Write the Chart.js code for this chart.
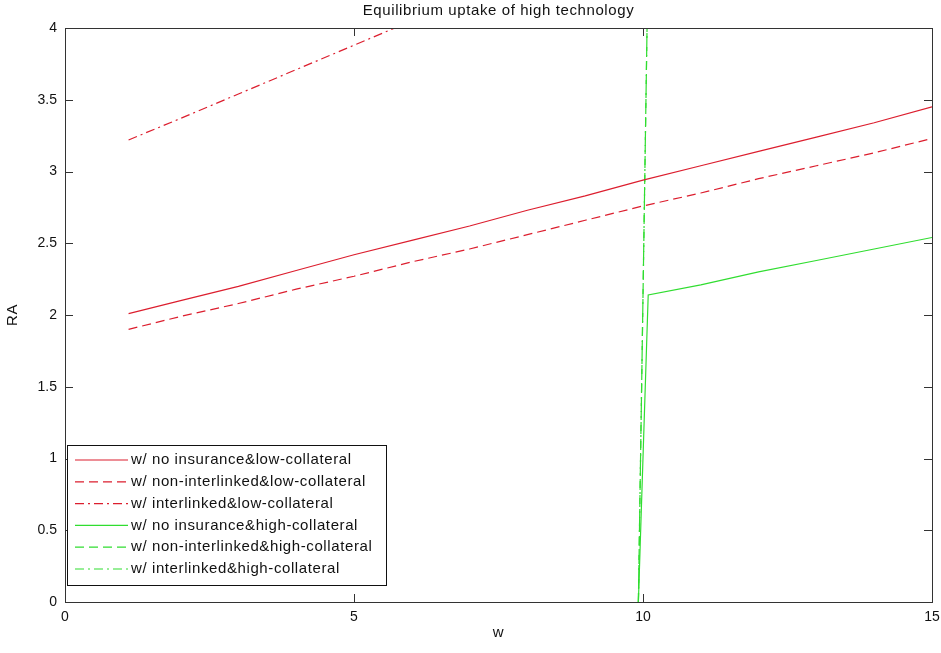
<!DOCTYPE html>
<html>
<head>
<meta charset="utf-8">
<script src="https://cdn.jsdelivr.net/npm/chart.js@4/dist/chart.umd.min.js"></script>
<style>
  body { margin: 0; background: #fff; }
</style>
</head>
<body>
<canvas id="chart" width="941" height="653"></canvas>
<script>
// values
let wLow = [1.1, 2, 3, 4, 5, 6, 7, 8, 9, 10, 11, 12, 13, 14, 15];
let raNoInsLow = [2.01, 2.10, 2.20, 2.31, 2.42, 2.52, 2.62, 2.73, 2.83, 2.94, 3.04, 3.14, 3.24, 3.34, 3.45];
let raNonInterLow = [1.90, 1.99, 2.08, 2.18, 2.27, 2.37, 2.46, 2.56, 2.66, 2.76, 2.85, 2.95, 3.04, 3.13, 3.23];
let wInterLow = [1.1, 2, 3, 4, 5, 6];
let raInterLow = [3.22, 3.37, 3.54, 3.71, 3.88, 4.05];
let wNoInsHigh = [9.92, 10.09, 11, 12, 13, 14, 15];
let raNoInsHigh = [0, 2.14, 2.21, 2.30, 2.38, 2.46, 2.54];
let wNonInterHigh = [9.92, 10.07];
let raNonInterHigh = [0, 4.0];
let wInterHigh = [9.92, 10.07];
let raInterHigh = [0, 4.0];

let labels = [
    "w/ no insurance&low-collateral",
    "w/ non-interlinked&low-collateral",
    "w/ interlinked&low-collateral",
    "w/ no insurance&high-collateral",
    "w/ non-interlinked&high-collateral",
    "w/ interlinked&high-collateral"
];
let xTicks = [0, 5, 10, 15];
let yTicks = [0, 0.5, 1, 1.5, 2, 2.5, 3, 3.5, 4];

let red = "#dc1e2e";
let green = "#30dd30";
let dash = [9, 5];
let dashDot = [9, 4, 2, 4];

function pts(xs, ys) {
    let out = [];
    for (let i = 0; i < xs.length; i++) out.push({ x: xs[i], y: ys[i] });
    return out;
}

function series(i, xs, ys, color, pattern) {
    return {
        label: labels[i],
        data: pts(xs, ys),
        borderColor: color,
        borderWidth: 1.2,
        borderDash: pattern,
        pointRadius: 0,
        fill: false,
        tension: 0
    };
}

let font = "Liberation Sans, Arial, sans-serif";

let matlabFrame = {
    id: "matlabFrame",
    afterDraw(chart) {
        let ctx = chart.ctx;
        let a = chart.chartArea;
        let xs = chart.scales.x, ys = chart.scales.y;
        ctx.save();
        ctx.strokeStyle = "#333";
        ctx.lineWidth = 1;
        ctx.beginPath();
        yTicks.forEach(function (v) {
            let y = Math.round(ys.getPixelForValue(v)) + 0.5;
            ctx.moveTo(a.left, y); ctx.lineTo(a.left + 8, y);
            ctx.moveTo(a.right, y); ctx.lineTo(a.right - 8, y);
        });
        xTicks.forEach(function (v) {
            let x = Math.round(xs.getPixelForValue(v)) + 0.5;
            ctx.moveTo(x, a.bottom); ctx.lineTo(x, a.bottom - 8);
            ctx.moveTo(x, a.top); ctx.lineTo(x, a.top + 8);
        });
        ctx.stroke();
        ctx.strokeRect(Math.round(a.left) + 0.5, Math.round(a.top) + 0.5,
            Math.round(a.right - a.left), Math.round(a.bottom - a.top));

        // legend
        let lx = 67, ly = 445, lw = 319, lh = 140;
        ctx.fillStyle = "#fff";
        ctx.fillRect(lx, ly, lw, lh);
        ctx.strokeStyle = "#111";
        ctx.strokeRect(lx + 0.5, ly + 0.5, lw, lh);
        ctx.font = "15px " + font;
        ctx.letterSpacing = "0.6px";
        ctx.textBaseline = "middle";
        ctx.textAlign = "left";
        chart.data.datasets.forEach(function (ds, i) {
            let y = ly + 15 + i * 21.8;
            ctx.strokeStyle = ds.borderColor;
            ctx.lineWidth = 1.2;
            ctx.setLineDash(ds.borderDash || []);
            ctx.beginPath();
            ctx.moveTo(75, y); ctx.lineTo(128, y);
            ctx.stroke();
            ctx.setLineDash([]);
            ctx.fillStyle = "#111";
            ctx.fillText(ds.label, 131, y);
        });

        // title and axis labels
        ctx.fillStyle = "#111";
        ctx.textAlign = "center";
        ctx.fillText("Equilibrium uptake of high technology", (a.left + a.right) / 2, 11);
        ctx.fillText("w", (a.left + a.right) / 2, 633);
        ctx.translate(13, (a.top + a.bottom) / 2);
        ctx.rotate(-Math.PI / 2);
        ctx.fillText("RA", 0, 0);
        ctx.restore();
    }
};

new Chart(document.getElementById("chart"), {
    type: "line",
    data: {
        datasets: [
            series(0, wLow, raNoInsLow, red, []),
            series(1, wLow, raNonInterLow, red, dash),
            series(2, wInterLow, raInterLow, red, dashDot),
            series(3, wNoInsHigh, raNoInsHigh, green, []),
            series(4, wNonInterHigh, raNonInterHigh, green, dash),
            series(5, wInterHigh, raInterHigh, green, dashDot)
        ]
    },
    options: {
        responsive: false,
        animation: false,
        layout: { padding: { top: 28, right: 9, left: 0, bottom: 0 } },
        plugins: { legend: { display: false }, title: { display: false }, tooltip: { enabled: false } },
        scales: {
            x: {
                type: "linear",
                min: 0, max: 15,
                afterFit: function (s) { s.height = 51; s.paddingLeft = 0; s.paddingRight = 0; },
                afterBuildTicks: function (s) { s.ticks = xTicks.map(function (v) { return { value: v }; }); },
                grid: { display: false, drawTicks: false },
                border: { display: false },
                ticks: {
                    color: "#111", padding: 7, font: { family: font, size: 14 }, maxRotation: 0,
                    callback: function (v) { return String(v); }
                }
            },
            y: {
                min: 0, max: 4,
                afterFit: function (s) { s.width = 65; s.paddingTop = 0; s.paddingBottom = 0; },
                afterBuildTicks: function (s) { s.ticks = yTicks.map(function (v) { return { value: v }; }); },
                grid: { display: false, drawTicks: false },
                border: { display: false },
                ticks: {
                    color: "#111", padding: 8, font: { family: font, size: 14 },
                    callback: function (v) { return String(v); }
                }
            }
        }
    },
    plugins: [matlabFrame]
});
</script>
</body>
</html>
